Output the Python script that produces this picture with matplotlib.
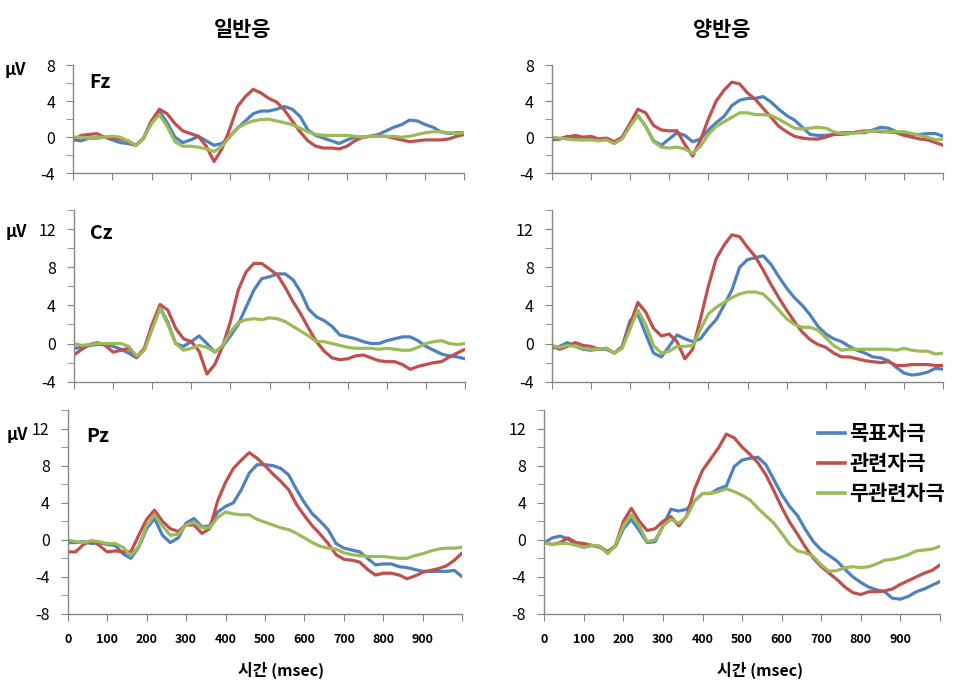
import matplotlib
matplotlib.use('Agg')
import matplotlib.pyplot as plt
from matplotlib.lines import Line2D

plt.rcParams['font.family'] = ['Noto Sans CJK KR', 'DejaVu Sans']
plt.rcParams['axes.unicode_minus'] = False

# ---------------- data ----------------
time_ms = list(range(0, 1001, 20))

col_titles = ['일반응', '양반응']
electrodes = ['Fz', 'Cz', 'Pz']
series_names = ['목표자극', '관련자극', '무관련자극']
series_colors = ['#4F81BD', '#C0504D', '#9BBB59']

x_ticks = list(range(0, 1001, 100))
x_ticklabels = ['0', '100', '200', '300', '400', '500', '600', '700', '800', '900', '']
fz_yticks = [-4, 0, 4, 8]
cz_yticks = [-4, 0, 4, 8, 12]
pz_yticks = [-8, -4, 0, 4, 8, 12]

fz_il_target = [-0.3, -0.4, -0.1, -0.1, 0.0, -0.3, -0.6, -0.7, -0.9, -0.1,
                1.8, 2.9, 1.6, 0.0, -0.6, -0.3, 0.1, -0.4, -0.9, -0.7,
                0.1, 1.0, 1.8, 2.6, 2.9, 2.9, 3.1, 3.4, 3.1, 2.3,
                0.8, 0.2, -0.1, -0.4, -0.7, -0.3, 0.0, 0.0, 0.1, 0.3,
                0.7, 1.1, 1.4, 1.9, 1.8, 1.4, 1.1, 0.6, 0.4, 0.5,
                0.5]
fz_il_related = [-0.3, 0.2, 0.3, 0.4, 0.0, -0.1, -0.2, -0.4, -0.9, -0.1,
                 1.8, 3.1, 2.6, 1.5, 0.7, 0.4, 0.1, -1.0, -2.7, -1.3,
                 0.9, 3.4, 4.5, 5.3, 4.9, 4.3, 3.9, 3.0, 1.8, 0.6,
                 -0.4, -1.0, -1.2, -1.2, -1.3, -1.0, -0.4, 0.0, 0.1, 0.1,
                 0.1, -0.1, -0.3, -0.5, -0.4, -0.3, -0.3, -0.3, -0.2, 0.1,
                 0.3]
fz_il_unrelated = [0.0, 0.0, -0.1, 0.0, 0.0, 0.1, 0.0, -0.4, -0.9, -0.1,
                   1.5, 2.5, 1.2, -0.5, -1.0, -1.0, -1.1, -1.3, -1.6, -1.0,
                   0.0, 1.0, 1.5, 1.8, 1.95, 2.0, 1.8, 1.6, 1.4, 1.0,
                   0.6, 0.3, 0.2, 0.2, 0.2, 0.2, 0.1, 0.0, 0.1, 0.1,
                   0.1, 0.1, 0.0, 0.1, 0.3, 0.5, 0.6, 0.6, 0.5, 0.4,
                   0.5]

fz_yang_target = [-0.3, -0.2, 0.1, -0.1, -0.3, -0.2, -0.3, -0.2, -0.7, 0.0,
                  1.5, 2.4, 1.2, -0.4, -0.9, -0.2, 0.5, 0.2, -0.5, -0.2,
                  0.8, 1.6, 2.3, 3.5, 4.1, 4.3, 4.3, 4.5, 3.9, 3.1,
                  2.4, 1.9, 1.1, 0.3, 0.2, 0.2, 0.3, 0.5, 0.5, 0.5,
                  0.5, 0.8, 1.1, 1.0, 0.6, 0.4, 0.3, 0.3, 0.4, 0.4,
                  0.1]
fz_yang_related = [-0.2, -0.2, 0.0, 0.2, 0.0, 0.1, -0.2, -0.1, -0.5, 0.0,
                   1.5, 3.1, 2.7, 1.3, 0.8, 0.7, 0.7, -0.8, -2.1, -0.3,
                   2.0, 4.0, 5.2, 6.1, 5.9, 4.9, 4.2, 3.2, 2.2, 1.2,
                   0.6, 0.1, -0.1, -0.2, -0.2, 0.0, 0.3, 0.3, 0.4, 0.6,
                   0.7, 0.7, 0.6, 0.6, 0.5, 0.2, 0.0, -0.2, -0.3, -0.6,
                   -0.9]
fz_yang_unrelated = [0.0, -0.1, -0.2, -0.3, -0.3, -0.3, -0.4, -0.3, -0.7, -0.2,
                     1.2, 2.4, 1.2, -0.5, -1.1, -1.2, -1.1, -1.3, -1.8, -1.0,
                     0.3, 1.2, 1.7, 2.2, 2.7, 2.7, 2.5, 2.5, 2.4, 2.0,
                     1.5, 1.0, 0.9, 1.0, 1.1, 1.0, 0.6, 0.4, 0.4, 0.5,
                     0.6, 0.7, 0.7, 0.6, 0.6, 0.6, 0.4, 0.2, 0.0, -0.3,
                     -0.2]

cz_il_target = [-0.5, -0.4, -0.2, -0.1, -0.1, -0.3, -0.6, -1.0, -1.5, -0.6,
                2.0, 3.8, 2.2, 0.0, -0.3, 0.2, 0.8, 0.0, -0.9, -0.3,
                0.8, 2.0, 3.8, 5.6, 6.8, 7.0, 7.3, 7.3, 6.7, 5.4,
                3.6, 2.8, 2.4, 1.8, 0.9, 0.7, 0.5, 0.2, 0.0, 0.0,
                0.3, 0.5, 0.7, 0.7, 0.3, -0.3, -0.7, -1.1, -1.3, -1.4,
                -1.6]
cz_il_related = [-1.2, -0.6, -0.1, 0.1, -0.2, -0.9, -0.7, -0.5, -1.4, -0.5,
                 2.0, 4.1, 3.5, 1.6, 0.5, 0.2, -0.8, -3.2, -2.2, -0.3,
                 2.3, 5.6, 7.5, 8.4, 8.4, 7.8, 7.2, 5.9, 4.4, 3.1,
                 1.6, 0.2, -0.8, -1.5, -1.7, -1.6, -1.3, -1.2, -1.5, -1.8,
                 -1.9, -1.9, -2.2, -2.7, -2.4, -2.2, -2.0, -1.9, -1.4, -1.0,
                 -0.6]
cz_il_unrelated = [0.0, -0.2, -0.1, 0.0, 0.0, 0.0, 0.0, -0.3, -1.3, -0.7,
                   1.5, 3.7, 2.0, 0.0, -0.7, -0.5, -0.2, -0.4, -0.9, -0.2,
                   1.2, 2.2, 2.5, 2.6, 2.5, 2.7, 2.6, 2.3, 1.8, 1.3,
                   0.8, 0.2, 0.2, 0.0, -0.2, -0.4, -0.5, -0.5, -0.5, -0.6,
                   -0.5, -0.6, -0.7, -0.7, -0.4, 0.0, 0.2, 0.3, 0.0, -0.1,
                   0.0]

cz_yang_target = [-0.5, -0.3, 0.1, -0.3, -0.6, -0.7, -0.6, -0.6, -1.0, -0.3,
                  2.4, 3.1, 1.0, -1.0, -1.4, -0.3, 0.9, 0.5, 0.2, 0.5,
                  1.6, 2.5, 4.0, 5.6, 8.0, 8.8, 9.0, 9.2, 8.3, 7.0,
                  5.8, 4.8, 4.0, 3.0, 1.8, 1.0, 0.5, 0.2, -0.3, -0.7,
                  -1.0, -1.4, -1.5, -1.8, -2.5, -3.1, -3.3, -3.2, -3.0, -2.6,
                  -2.7]
cz_yang_related = [-0.2, -0.6, -0.3, 0.1, -0.2, -0.3, -0.6, -0.5, -1.0, -0.4,
                   2.0, 4.3, 3.3, 1.6, 0.8, 1.0, 0.2, -1.6, -0.6, 2.6,
                   6.0, 8.9, 10.3, 11.4, 11.2, 10.1, 9.1, 7.7, 6.2, 4.8,
                   3.5, 2.3, 1.2, 0.4, -0.1, -0.4, -1.0, -1.4, -1.4, -1.6,
                   -1.8, -1.9, -2.0, -1.9, -2.3, -2.3, -2.2, -2.2, -2.2, -2.3,
                   -2.3]
cz_yang_unrelated = [-0.2, -0.4, -0.2, -0.3, -0.5, -0.6, -0.6, -0.5, -1.0, -0.5,
                     1.5, 3.5, 2.0, -0.2, -1.0, -0.8, -0.3, -0.3, -0.2, 1.5,
                     3.1, 3.8, 4.3, 4.8, 5.2, 5.4, 5.4, 5.2, 4.4, 3.5,
                     2.6, 2.0, 1.7, 1.7, 1.4, 0.6, -0.2, -0.7, -0.6, -0.6,
                     -0.6, -0.6, -0.6, -0.6, -0.7, -0.5, -0.7, -0.8, -0.8, -1.1,
                     -1.0]

pz_il_target = [-0.3, -0.3, -0.2, -0.4, -0.3, -0.5, -0.6, -1.5, -2.0, -0.8,
                1.2, 2.3, 0.5, -0.3, 0.2, 1.8, 2.3, 1.4, 1.5, 3.0,
                3.6, 4.0, 5.4, 7.2, 8.1, 8.1, 8.0, 7.7, 7.0, 5.4,
                4.0, 2.8, 2.0, 1.1, -0.4, -0.9, -1.1, -1.3, -2.0, -2.7,
                -2.6, -2.6, -2.9, -3.0, -3.2, -3.4, -3.4, -3.4, -3.4, -3.3,
                -4.0]
pz_il_related = [-1.3, -1.3, -0.5, -0.1, -0.6, -1.3, -1.2, -1.3, -1.3, 0.5,
                 2.2, 3.2, 2.0, 1.2, 0.9, 1.6, 1.6, 0.7, 1.2, 4.2,
                 6.2, 7.7, 8.6, 9.4, 8.8, 8.0, 7.1, 6.3, 5.4, 3.8,
                 2.6, 1.5, 0.6, -0.4, -1.6, -2.1, -2.2, -2.4, -3.2, -3.8,
                 -3.6, -3.6, -3.8, -4.2, -3.9, -3.5, -3.3, -3.1, -2.8, -2.2,
                 -1.4]
pz_il_unrelated = [0.0, -0.2, -0.3, -0.1, -0.2, -0.4, -0.4, -0.8, -1.7, -0.7,
                   1.5, 2.7, 1.5, 0.5, 0.6, 1.6, 1.9, 1.3, 1.3, 2.4,
                   3.0, 2.8, 2.7, 2.7, 2.2, 1.9, 1.6, 1.3, 1.1, 0.7,
                   0.2, -0.3, -0.7, -0.9, -1.0, -1.4, -1.6, -1.7, -1.8, -1.8,
                   -1.8, -1.9, -2.0, -2.0, -1.7, -1.5, -1.2, -1.0, -0.9, -0.9,
                   -0.8]

pz_yang_target = [-0.3, 0.2, 0.4, 0.1, -0.5, -0.8, -0.6, -0.8, -1.3, -0.7,
                  1.2, 2.2, 1.0, -0.3, -0.2, 1.5, 3.3, 3.1, 3.3, 4.2,
                  5.0, 5.0, 5.5, 5.8, 7.9, 8.6, 8.8, 8.9, 8.1, 6.5,
                  4.9, 3.6, 2.6, 1.1, -0.2, -1.1, -1.7, -2.3, -3.2, -4.0,
                  -4.6, -5.1, -5.4, -5.6, -6.3, -6.4, -6.1, -5.6, -5.3, -4.9,
                  -4.5]
pz_yang_related = [-0.3, -0.5, -0.3, 0.2, -0.3, -0.4, -0.6, -0.7, -1.3, -0.6,
                   2.0, 3.4, 2.0, 1.0, 1.2, 2.0, 2.5, 1.5, 2.6, 5.5,
                   7.5, 8.7, 9.9, 11.4, 11.0, 10.0, 9.2, 8.3, 7.0, 5.3,
                   3.5, 1.9, 0.6, -0.8, -2.0, -2.9, -3.6, -4.3, -5.1, -5.7,
                   -5.9, -5.6, -5.6, -5.5, -5.3, -4.8, -4.4, -4.0, -3.6, -3.3,
                   -2.7]
pz_yang_unrelated = [-0.3, -0.5, -0.4, -0.4, -0.6, -0.8, -0.6, -0.7, -1.5, -0.6,
                     1.5, 2.7, 1.5, -0.2, 0.0, 1.5, 2.2, 1.8, 2.5, 4.2,
                     5.0, 5.0, 5.2, 5.5, 5.2, 4.8, 4.3, 3.4, 2.6, 1.8,
                     0.7, -0.5, -1.2, -1.4, -1.8, -2.7, -3.4, -3.3, -3.0, -2.9,
                     -3.0, -2.9, -2.6, -2.2, -2.1, -1.9, -1.6, -1.2, -1.1, -1.0,
                     -0.7]

panel_data = {
    ('Fz', 0): [fz_il_target, fz_il_related, fz_il_unrelated],
    ('Fz', 1): [fz_yang_target, fz_yang_related, fz_yang_unrelated],
    ('Cz', 0): [cz_il_target, cz_il_related, cz_il_unrelated],
    ('Cz', 1): [cz_yang_target, cz_yang_related, cz_yang_unrelated],
    ('Pz', 0): [pz_il_target, pz_il_related, pz_il_unrelated],
    ('Pz', 1): [pz_yang_target, pz_yang_related, pz_yang_unrelated],
}
ylims = {'Fz': (-4, 8), 'Cz': (-4, 14), 'Pz': (-8, 14)}
yticks = {'Fz': fz_yticks, 'Cz': cz_yticks, 'Pz': pz_yticks}

# ---------------- layout (pixels) ----------------
W, H = 960, 691
fig = plt.figure(figsize=(W / 100, H / 100), dpi=100)

axes_px = {
    ('Fz', 0): (73.3, 464.3, 65, 173.3),
    ('Fz', 1): (551.7, 943.3, 65, 173.3),
    ('Cz', 0): (74, 465, 210, 381.7),
    ('Cz', 1): (551.7, 943.3, 210, 381.7),
    ('Pz', 0): (67.7, 462.3, 410, 614),
    ('Pz', 1): (544.3, 940, 410, 614),
}
xlabel_center_px = {0: 281, 1: 760}

spine_c = '#868686'
axes = {}
for key, (x0, x1, yt, yb) in axes_px.items():
    el, col = key
    ax = fig.add_axes([x0 / W, 1 - yb / H, (x1 - x0) / W, (yb - yt) / H])
    axes[key] = ax
    for vals, c in zip(panel_data[key], series_colors):
        ax.plot(time_ms, vals, color=c, lw=2.3, solid_capstyle='round', solid_joinstyle='round')
    lo, hi = ylims[el]
    ax.set_xlim(0, 1000)
    ax.set_ylim(lo, hi)
    for s in ['top', 'right']:
        ax.spines[s].set_visible(False)
    for s in ['left', 'bottom']:
        ax.spines[s].set_color(spine_c)
        ax.spines[s].set_linewidth(1.0)
    ax.set_yticks(yticks[el])
    ax.set_yticks(list(range(lo, hi + 1, 2)), minor=True)
    ax.set_xticks(x_ticks)
    ax.tick_params(axis='y', which='both', direction='out', length=5, color=spine_c,
                   labelsize=11.5, pad=8)
    ax.tick_params(axis='x', which='both', direction='out', length=5, color=spine_c)
    if el == 'Pz':
        ax.set_xticklabels(x_ticklabels, fontsize=9, fontweight='bold')
        ax.tick_params(axis='x', pad=9)
        ax.set_xlabel('시간 (msec)', fontsize=11.5, fontweight='bold', labelpad=12)
        ax.xaxis.set_label_coords((xlabel_center_px[col] - x0) / (x1 - x0), -0.235)
    else:
        ax.set_xticklabels([])

# column titles
fig.text(243 / W, 1 - 30 / H, col_titles[0], ha='center', va='center', fontsize=15, fontweight='bold')
fig.text(722 / W, 1 - 30 / H, col_titles[1], ha='center', va='center', fontsize=15, fontweight='bold')

# electrode labels and units
el_pos = {'Fz': (100, 82), 'Cz': (101, 234), 'Pz': (98, 437)}
uv_pos = {'Fz': (15, 70), 'Cz': (16, 232), 'Pz': (17, 435)}
for el in electrodes:
    x, y = el_pos[el]
    fig.text(x / W, 1 - y / H, el, ha='center', va='center', fontsize=14, fontweight='bold')
    x, y = uv_pos[el]
    fig.text(x / W, 1 - y / H, 'μV', ha='center', va='center', fontsize=12, fontweight='bold')

# legend
handles = [Line2D([0], [0], color=c, lw=2.6) for c in series_colors]
axes[('Pz', 1)].legend(handles, series_names, loc='upper left',
                       bbox_to_anchor=(818 / W, 1 - 423 / H), bbox_transform=fig.transFigure,
                       frameon=False, prop={'size': 15, 'weight': 'bold'},
                       handlelength=1.3, handletextpad=0.2, borderpad=0, borderaxespad=0,
                       labelspacing=0.43)

fig.savefig('out.png', dpi=100)
